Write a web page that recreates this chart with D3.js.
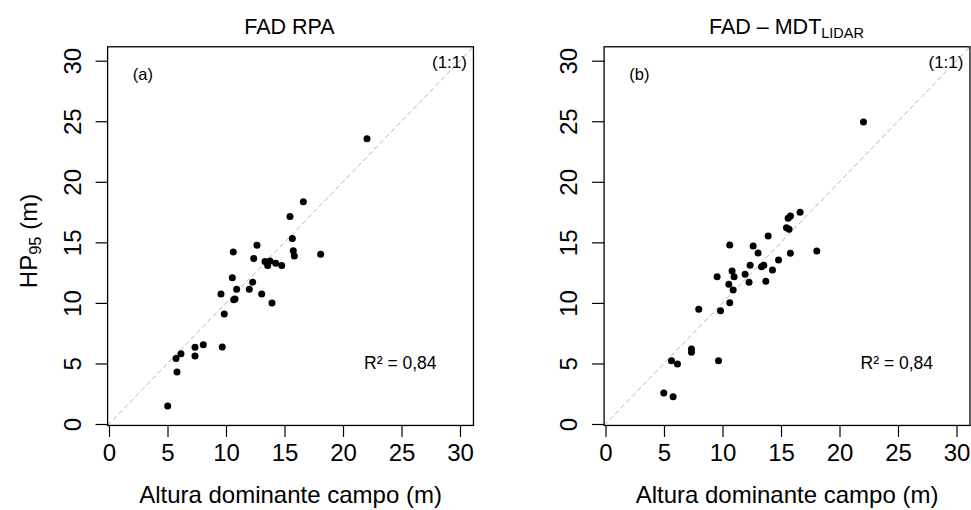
<!DOCTYPE html>
<html>
<head>
<meta charset="utf-8">
<script src="https://cdn.jsdelivr.net/npm/d3@7"></script>
<style>
  body { margin: 0; background: #fff; }
  text { font-family: "Liberation Sans", Arial, sans-serif; fill: #000; }
</style>
</head>
<body>
<div id="chart"></div>
<script>
var svgWidth = 971;
var svgHeight = 510;

// axis ticks (same for both panels)
var ticks = [0, 5, 10, 15, 20, 25, 30];

// panel (a) FAD RPA : field dominant height vs HP95
var rpaX = [15.47, 15.67, 15.75, 15.84, 10.62, 12.65, 12.37, 13.33, 13.56, 13.76, 14.25, 14.76,
  10.54, 12.28, 10.91, 11.99, 9.57, 13.05, 10.77, 10.66, 13.93, 9.85, 9.68, 8.06, 7.35, 7.35,
  6.15, 5.73, 5.81, 5.02, 22.05, 16.61, 18.09];
var rpaY = [17.13, 15.31, 14.30, 13.88, 14.21, 14.77, 13.66, 13.41, 13.08, 13.47, 13.28, 13.08,
  12.07, 11.71, 11.13, 11.13, 10.74, 10.74, 10.33, 10.25, 10.00, 9.09, 6.36, 6.55, 6.34, 5.62,
  5.81, 5.40, 4.30, 1.49, 23.55, 18.35, 14.02];

// panel (b) FAD - MDT LIDAR
var lidarX = [13.90, 15.81, 15.61, 15.47, 15.69, 10.62, 12.62, 13.04, 15.80, 14.79, 12.36, 13.33,
  13.53, 10.82, 10.99, 14.27, 11.93, 9.54, 12.27, 13.70, 10.54, 10.91, 10.62, 7.97, 9.83, 7.35,
  7.35, 5.64, 6.15, 9.66, 4.98, 5.78, 22.05, 16.63, 18.06];
var lidarY = [15.52, 17.18, 16.99, 16.21, 16.08, 14.78, 14.70, 14.12, 14.10, 13.54, 13.10, 12.99,
  13.10, 12.63, 12.16, 12.72, 12.36, 12.16, 11.70, 11.78, 11.54, 11.07, 10.02, 9.47, 9.36, 6.19,
  5.92, 5.23, 4.95, 5.23, 2.56, 2.25, 24.94, 17.48, 14.29];

var r2Label = "R² = 0,84";
var xTitle = "Altura dominante campo (m)";

var svg = d3.select("#chart").append("svg")
  .attr("width", svgWidth)
  .attr("height", svgHeight);

svg.append("rect").attr("width", svgWidth).attr("height", svgHeight).attr("fill", "#fff");

// plot limits (box) slightly beyond the 0-30 ticks, like R
var lim = [-0.12, 31.15];

function drawPanel(left, xs, ys, tag) {
  var x = d3.scaleLinear().domain([0, 30]).range([left, left + 351]);
  var y = d3.scaleLinear().domain([0, 30]).range([424, 60.7]);
  var g = svg.append("g");

  // 1:1 line
  g.append("line")
    .attr("x1", x(lim[0])).attr("y1", y(lim[0]))
    .attr("x2", x(lim[1])).attr("y2", y(lim[1]))
    .attr("stroke", "#b4b4b4")
    .attr("stroke-width", 1)
    .attr("stroke-dasharray", "5,3");

  // axes
  var bottomAxis = d3.axisBottom(x).tickValues(ticks).tickSize(11.5).tickPadding(7);
  var leftAxis = d3.axisLeft(y).tickValues(ticks).tickSize(12).tickPadding(6);

  var xAxis = g.append("g")
    .attr("transform", `translate(0, ${y(lim[0])})`)
    .call(bottomAxis);
  xAxis.select(".domain").remove();
  xAxis.selectAll("line").attr("stroke", "#000").attr("stroke-width", 1.2);
  xAxis.selectAll("text")
    .attr("font-size", "24px")
    .attr("font-family", "Liberation Sans, Arial, sans-serif")
    .attr("fill", "#000");

  var yAxis = g.append("g")
    .attr("transform", `translate(${x(lim[0])}, 0)`)
    .call(leftAxis);
  yAxis.select(".domain").remove();
  yAxis.selectAll("line").attr("stroke", "#000").attr("stroke-width", 1.2);
  yAxis.selectAll("text")
    .attr("font-size", "24px")
    .attr("font-family", "Liberation Sans, Arial, sans-serif")
    .attr("fill", "#000")
    .attr("text-anchor", "middle")
    .attr("dy", 0)
    .attr("x", 0)
    .attr("transform", "translate(-27, 0) rotate(-90)");

  // box
  g.append("rect")
    .attr("x", x(lim[0])).attr("y", y(lim[1]))
    .attr("width", x(lim[1]) - x(lim[0]))
    .attr("height", y(lim[0]) - y(lim[1]))
    .attr("fill", "none")
    .attr("stroke", "#000")
    .attr("stroke-width", 1.3);

  // points
  g.selectAll("circle")
    .data(xs.map((d, i) => [d, ys[i]]))
    .enter()
    .append("circle")
    .attr("cx", d => x(d[0]))
    .attr("cy", d => y(d[1]))
    .attr("r", 3.5)
    .attr("fill", "#000");

  // annotations
  g.append("text")
    .attr("x", x(2.9)).attr("y", 79.5)
    .attr("text-anchor", "middle")
    .attr("font-size", "16.5px")
    .text(tag);

  g.append("text")
    .attr("x", x(29.1)).attr("y", 68)
    .attr("text-anchor", "middle")
    .attr("font-size", "17px")
    .text("(1:1)");

  g.append("text")
    .attr("x", x(24.9)).attr("y", 369)
    .attr("text-anchor", "middle")
    .attr("font-size", "17.5px")
    .text(r2Label);

  g.append("text")
    .attr("x", (x(lim[0]) + x(lim[1])) / 2).attr("y", 502.5)
    .attr("text-anchor", "middle")
    .attr("font-size", "24px")
    .text(xTitle);

  return {x: x, y: y, g: g};
}

var pa = drawPanel(109, rpaX, rpaY, "(a)");
var pb = drawPanel(605.5, lidarX, lidarY, "(b)");

// titles
pa.g.append("text")
  .attr("x", 289.5).attr("y", 34)
  .attr("text-anchor", "middle")
  .attr("font-size", "21.5px")
  .text("FAD RPA");

var tb = pb.g.append("text")
  .attr("x", 786.5).attr("y", 34)
  .attr("text-anchor", "middle")
  .attr("font-size", "21.5px");
tb.append("tspan").text("FAD \u2013 MDT");
tb.append("tspan").attr("font-size", "14.5px").attr("dy", 3.5).text("LIDAR");

// y title
var yt = svg.append("text")
  .attr("transform", "translate(37, 241) rotate(-90)")
  .attr("text-anchor", "middle")
  .attr("font-size", "24px");
yt.append("tspan").text("HP");
yt.append("tspan").attr("font-size", "16.5px").attr("dy", 4).text("95");
yt.append("tspan").attr("dy", -4).text(" (m)");
</script>
</body>
</html>
